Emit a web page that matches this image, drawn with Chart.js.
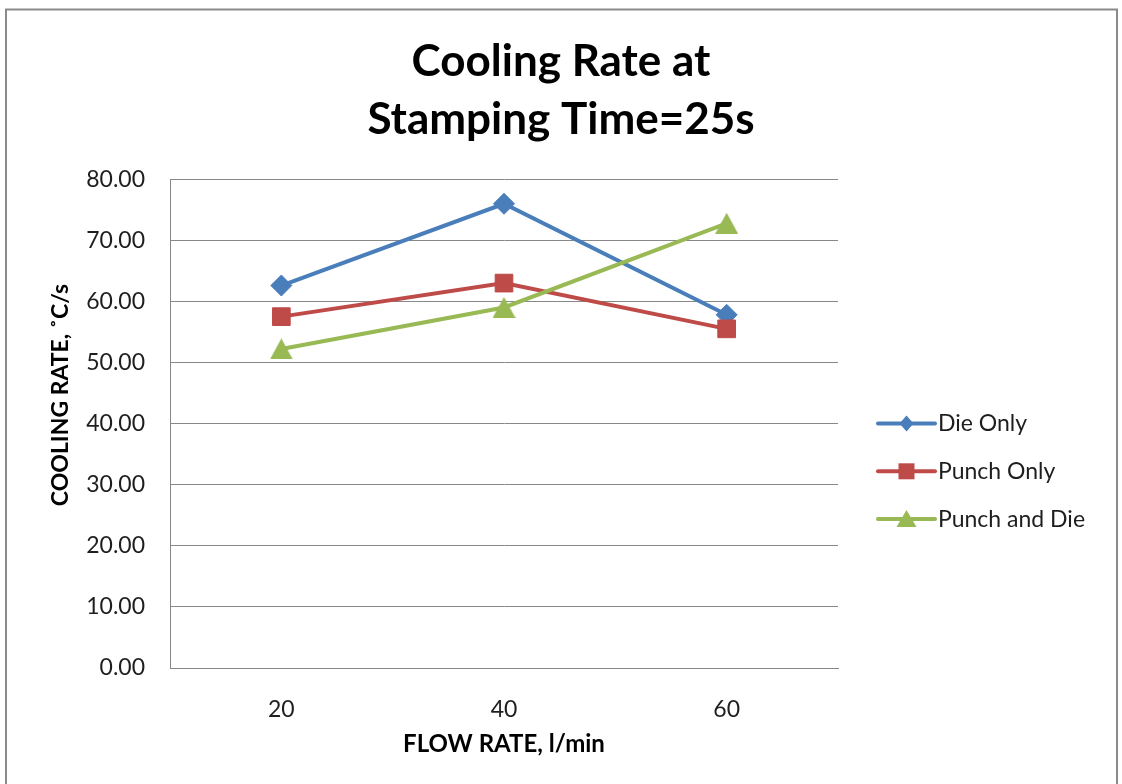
<!DOCTYPE html>
<html>
<head>
<meta charset="utf-8">
<title>Cooling Rate at Stamping Time=25s</title>
<script src="https://cdn.jsdelivr.net/npm/chart.js@4.4.1/dist/chart.umd.min.js"></script>
<style>
  html, body { margin: 0; padding: 0; background: #ffffff; }
  #wrap { width: 1122px; height: 784px; position: relative; }
</style>
</head>
<body>
<div id="wrap"><canvas id="chart" width="1122" height="784"></canvas></div>
<script>
// ---- data ----
const flowRates   = ['20', '40', '60'];           // l/min
const dieOnly     = [62.7, 76.1, 57.9];           // °C/s
const punchOnly   = [57.6, 63.1, 55.6];
const punchAndDie = [52.3, 59.1, 72.9];
const seriesNames = ['Die Only', 'Punch Only', 'Punch and Die'];
const titleLines  = ['Cooling Rate at', 'Stamping Time=25s'];
const xAxisTitle  = 'FLOW RATE, l/min';
const yAxisTitle  = 'COOLING RATE, ˚C/s';
const yMin = 0, yMax = 80, yStep = 10;

// ---- styling ----
const BLUE = '#4A7EBB', RED = '#BE4B48', GREEN = '#98B954';
const GRID = '#888888';
const FONT = 'Lato, "Open Sans", "DejaVu Sans", sans-serif';
const TEXT = '#1e1e1e';

// page layout (pixels)
const frame = { left: 6, top: 9.5, right: 1117 };
const plotBox = { left: 170, right: 838, top: 180, bottom: 668 };
const legendBox = { lineStart: 878, lineEnd: 935, textX: 938, firstRow: 423.5, rowGap: 47.8 };
const yTitlePos = { x: 61, y: 395 };

// filled triangle marker, centred in its bounding box
function triangleMarker(w, h, color) {
  const c = document.createElement('canvas');
  c.width = w; c.height = h;
  const g = c.getContext('2d');
  g.fillStyle = color;
  g.beginPath();
  g.moveTo(w / 2, 0);
  g.lineTo(w, h);
  g.lineTo(0, h);
  g.closePath();
  g.fill();
  return c;
}
const triBig = triangleMarker(23, 21, GREEN);

// white page with a thin grey frame
const framePlugin = {
  id: 'frame',
  beforeDraw(chart) {
    const ctx = chart.ctx;
    ctx.save();
    ctx.fillStyle = '#ffffff';
    ctx.fillRect(0, 0, chart.width, chart.height);
    ctx.strokeStyle = '#8a8a8a';
    ctx.lineWidth = 2;
    ctx.strokeRect(frame.left, frame.top, frame.right - frame.left, chart.height + 20);
    ctx.restore();
  }
};

// vertical axis title
const yTitlePlugin = {
  id: 'yTitle',
  afterDraw(chart) {
    const ctx = chart.ctx;
    ctx.save();
    ctx.translate(yTitlePos.x, yTitlePos.y);
    ctx.rotate(-Math.PI / 2);
    ctx.font = 'bold 23px ' + FONT;
    ctx.fillStyle = '#000000';
    ctx.textAlign = 'center';
    ctx.textBaseline = 'middle';
    ctx.fillText(yAxisTitle, 0, 0);
    ctx.restore();
  }
};

// legend: line sample with marker, then series name
const legendPlugin = {
  id: 'sideLegend',
  afterDraw(chart) {
    const ctx = chart.ctx;
    ctx.save();
    chart.data.datasets.forEach((ds, i) => {
      const y = legendBox.firstRow + i * legendBox.rowGap;
      const cx = (legendBox.lineStart + legendBox.lineEnd) / 2;
      ctx.strokeStyle = ds.borderColor;
      ctx.lineWidth = 4;
      ctx.lineCap = 'round';
      ctx.beginPath();
      ctx.moveTo(legendBox.lineStart, y);
      ctx.lineTo(legendBox.lineEnd, y);
      ctx.stroke();
      ctx.fillStyle = ds.borderColor;
      ctx.beginPath();
      if (i === 0) {
        ctx.moveTo(cx, y - 8); ctx.lineTo(cx + 7, y); ctx.lineTo(cx, y + 8); ctx.lineTo(cx - 7, y);
      } else if (i === 1) {
        ctx.rect(cx - 8, y - 8, 16, 16);
      } else {
        ctx.moveTo(cx, y - 9); ctx.lineTo(cx + 10, y + 8); ctx.lineTo(cx - 10, y + 8);
      }
      ctx.closePath();
      ctx.fill();
      ctx.fillStyle = TEXT;
      ctx.font = '23px ' + FONT;
      ctx.textAlign = 'left';
      ctx.textBaseline = 'middle';
      ctx.fillText(ds.label, legendBox.textX, y);
    });
    ctx.restore();
  }
};

const common = { borderWidth: 4, tension: 0, fill: false, pointBorderWidth: 1 };

new Chart(document.getElementById('chart'), {
  type: 'line',
  data: {
    labels: flowRates,
    datasets: [
      Object.assign({}, common, {
        label: seriesNames[0], data: dieOnly, order: 3,
        borderColor: BLUE, backgroundColor: BLUE,
        pointStyle: 'rectRot', pointRadius: 10.5,
        pointBackgroundColor: BLUE, pointBorderColor: BLUE
      }),
      Object.assign({}, common, {
        label: seriesNames[1], data: punchOnly, order: 2,
        borderColor: RED, backgroundColor: RED,
        pointStyle: 'rect', pointRadius: 12.5,
        pointBackgroundColor: RED, pointBorderColor: RED
      }),
      Object.assign({}, common, {
        label: seriesNames[2], data: punchAndDie, order: 1,
        borderColor: GREEN, backgroundColor: GREEN,
        pointStyle: triBig, pointRadius: 11,
        pointBackgroundColor: GREEN, pointBorderColor: GREEN
      })
    ]
  },
  options: {
    responsive: false,
    animation: false,
    events: [],
    layout: { padding: 0 },
    plugins: {
      legend: { display: false },
      tooltip: { enabled: false },
      title: {
        display: true,
        text: titleLines,
        color: '#000000',
        font: { family: FONT, size: 44, weight: 'bold', lineHeight: 1.3045 },
        padding: { top: 33.3, bottom: 31.9 }
      }
    },
    scales: {
      x: {
        type: 'category',
        offset: true,
        grid: { display: false },
        border: { display: true, color: GRID, width: 1 },
        ticks: { color: TEXT, font: { family: FONT, size: 23 }, padding: 20 },
        title: {
          display: true, text: xAxisTitle, color: '#000000',
          font: { family: FONT, size: 24, weight: 'bold' },
          padding: { top: 0, bottom: 25 }
        },
        afterFit(s) { s.height = 784 - plotBox.bottom; }
      },
      y: {
        type: 'linear',
        position: 'left',
        min: yMin, max: yMax,
        grid: { color: GRID, lineWidth: 1, drawTicks: false },
        border: { display: true, color: GRID, width: 1 },
        ticks: {
          stepSize: yStep, padding: 25, color: TEXT,
          font: { family: FONT, size: 23 },
          callback: v => Number(v).toFixed(2)
        },
        afterFit(s) { s.width = plotBox.left; }
      },
      gutter: {
        type: 'linear',
        position: 'right',
        grid: { display: false },
        border: { display: false },
        ticks: { display: false },
        afterFit(s) { s.width = 1122 - plotBox.right; }
      }
    }
  },
  plugins: [framePlugin, yTitlePlugin, legendPlugin]
});
</script>
</body>
</html>
